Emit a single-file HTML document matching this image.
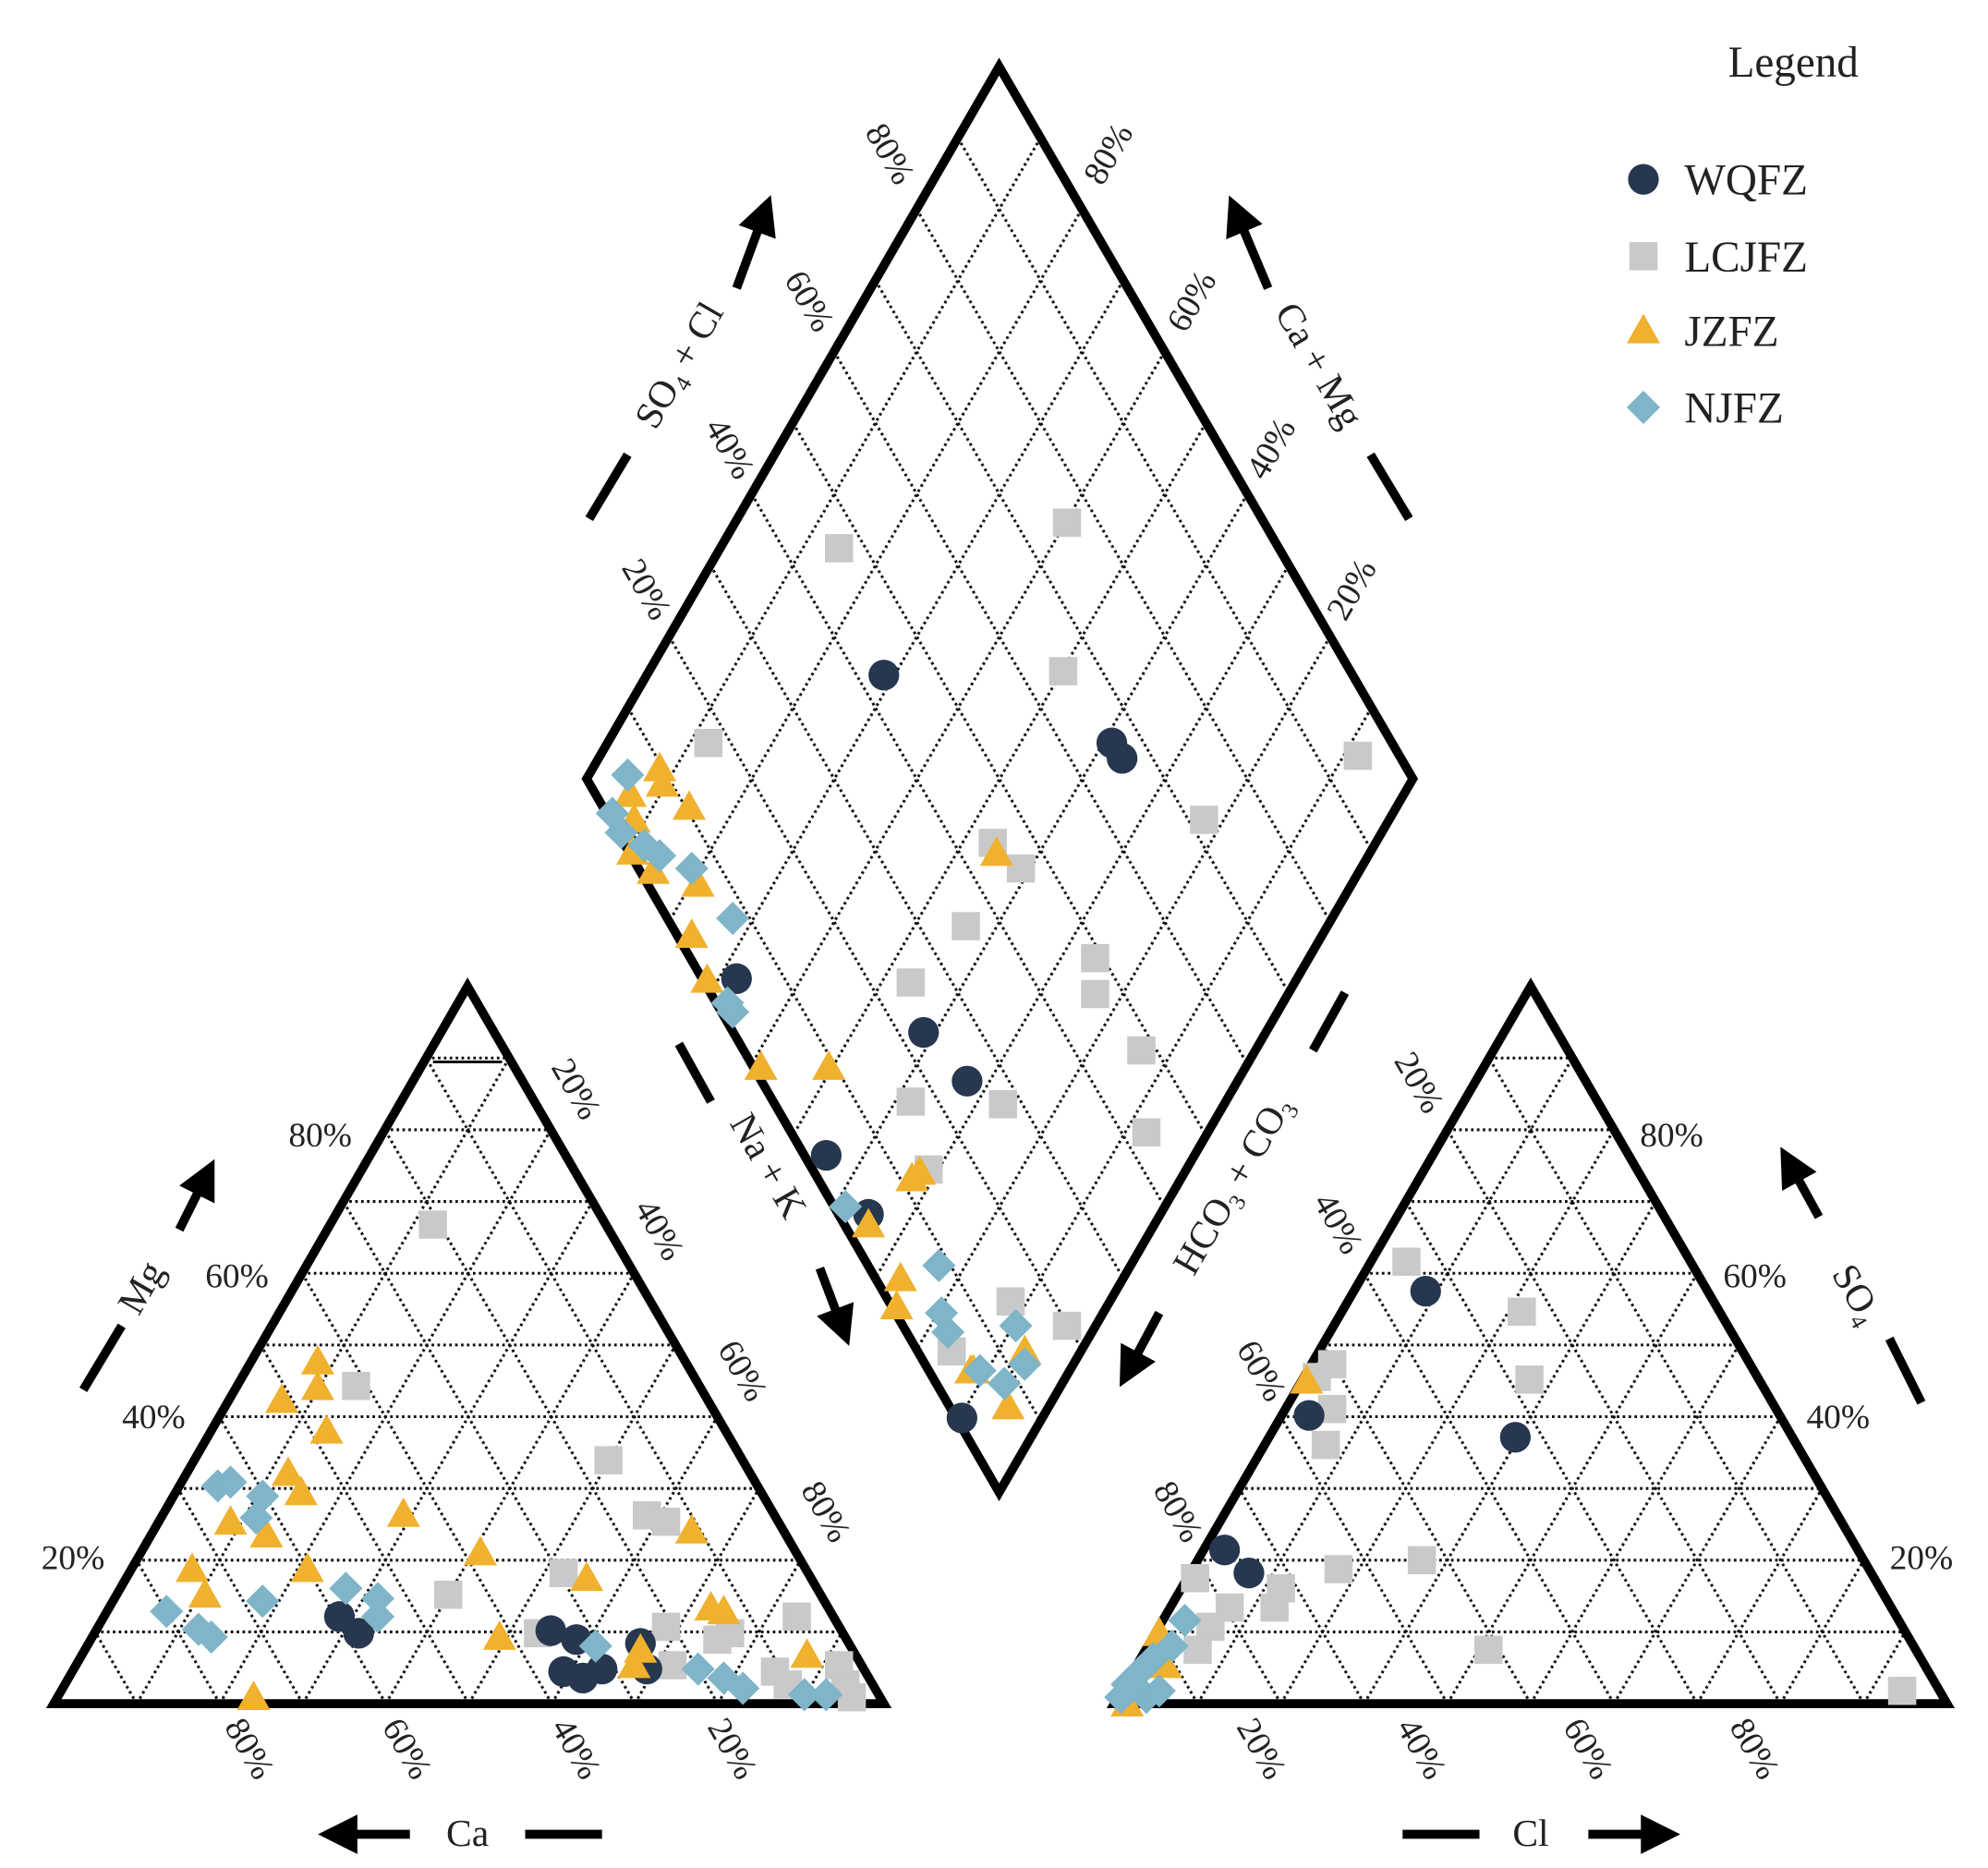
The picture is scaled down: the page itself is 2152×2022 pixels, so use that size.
<!DOCTYPE html>
<html><head><meta charset="utf-8"><style>
html,body{margin:0;padding:0;background:#fff;}
svg{display:block;}
text{font-family:"Liberation Serif",serif;fill:#222;}
</style></head><body>
<svg id="s" width="2152" height="2022" viewBox="0 0 1552 1458.3" preserveAspectRatio="none" xmlns="http://www.w3.org/2000/svg">
<defs>
<marker id="ah" markerWidth="4.4" markerHeight="4.4" refX="2" refY="2.2" orient="auto" markerUnits="strokeWidth"><path d="M0,0 L4.4,2.2 L0,4.4 z" fill="#000"/></marker>
</defs>
<g id="grid" stroke="#111" stroke-width="2.2" stroke-dasharray="2,2.6" fill="none"></g>
<g fill="none" stroke="#000" stroke-width="7" stroke-linejoin="miter">
<polygon points="42,1330 690,1330 365,770"/>
<polygon points="870,1330 1520,1330 1195,770"/>
<polygon points="780,52 458,608 780,1165 1103,608"/>
<line x1="338" y1="829" x2="392" y2="829" stroke-width="2"/>
</g>
<g stroke="#000" stroke-width="7" fill="none">
<line x1="460" y1="405" x2="490" y2="355"/>
<line x1="575" y1="225" x2="596" y2="168" marker-end="url(#ah)"/>
<line x1="990" y1="225" x2="966" y2="168" marker-end="url(#ah)"/>
<line x1="1070" y1="355" x2="1100" y2="405"/>
<line x1="530" y1="815" x2="555" y2="860"/>
<line x1="640" y1="990" x2="657" y2="1035" marker-end="url(#ah)"/>
<line x1="1050" y1="775" x2="1025" y2="820"/>
<line x1="905" y1="1025" x2="882" y2="1068" marker-end="url(#ah)"/>
<line x1="65" y1="1085" x2="95" y2="1035"/>
<line x1="140" y1="960" x2="160" y2="920" marker-end="url(#ah)"/>
<line x1="1420" y1="950" x2="1398" y2="910" marker-end="url(#ah)"/>
<line x1="1475" y1="1045" x2="1500" y2="1095"/>
<line x1="320" y1="1432" x2="265" y2="1432" marker-end="url(#ah)"/>
<line x1="410" y1="1432" x2="470" y2="1432"/>
<line x1="1095" y1="1432" x2="1155" y2="1432"/>
<line x1="1240" y1="1432" x2="1295" y2="1432" marker-end="url(#ah)"/>
</g>
<g id="pts"></g>
<g font-size="27">
<text x="250" y="895" text-anchor="middle">80%</text>
<text x="185" y="1005" text-anchor="middle">60%</text>
<text x="120" y="1115" text-anchor="middle">40%</text>
<text x="57" y="1225" text-anchor="middle">20%</text>
<text x="1305" y="895" text-anchor="middle">80%</text>
<text x="1370" y="1005" text-anchor="middle">60%</text>
<text x="1435" y="1115" text-anchor="middle">40%</text>
<text x="1500" y="1225" text-anchor="middle">20%</text>
<g id="rot"></g>
<text x="365" y="1441" text-anchor="middle" font-size="30">Ca</text>
<text x="1195" y="1441" text-anchor="middle" font-size="30">Cl</text>
<text x="1400" y="60" text-anchor="middle" font-size="34">Legend</text>
<text x="1315" y="152" font-size="34">WQFZ</text>
<text x="1315" y="212" font-size="34">LCJFZ</text>
<text x="1315" y="270" font-size="34">JZFZ</text>
<text x="1315" y="330" font-size="34">NJFZ</text>
<text transform="translate(110,1005) rotate(-60)" text-anchor="middle" font-size="30" dy="10">Mg</text>
<text transform="translate(1450,1010) rotate(60)" text-anchor="middle" font-size="30" dy="10">SO<tspan font-size="18" dy="6">4</tspan></text>
<text transform="translate(530,285) rotate(-60)" text-anchor="middle" font-size="30" dy="10">SO<tspan font-size="18" dy="6">4</tspan><tspan dy="-6"> + Cl</tspan></text>
<text transform="translate(1030,285) rotate(60)" text-anchor="middle" font-size="30" dy="10">Ca + Mg</text>
<text transform="translate(600,910) rotate(60)" text-anchor="middle" font-size="30" dy="10">Na + K</text>
<text transform="translate(962,925) rotate(-60)" text-anchor="middle" font-size="30" dy="10">HCO<tspan font-size="18" dy="6">3</tspan><tspan dy="-6"> + CO</tspan><tspan font-size="18" dy="6">3</tspan></text>
</g>
</svg>
<script>
var NS="http://www.w3.org/2000/svg";
function el(p,n,a){var e=document.createElementNS(NS,n);for(var k in a)e.setAttribute(k,a[k]);p.appendChild(e);return e;}
var g=document.getElementById("grid");
function lerp(a,b,t){return [a[0]+t*(b[0]-a[0]),a[1]+t*(b[1]-a[1])];}
function ln(p,q){el(g,"line",{x1:p[0],y1:p[1],x2:q[0],y2:q[1]});}
function tri(A,B,C){for(var i=1;i<10;i++){var t=i/10;ln(lerp(A,C,t),lerp(B,C,t));ln(lerp(A,B,t),lerp(C,B,t));ln(lerp(B,A,t),lerp(C,A,t));}}
tri([42,1330],[690,1330],[365,770]);tri([870,1330],[1520,1330],[1195,770]);
var T=[780,52],L=[458,608],Bm=[780,1165],R=[1103,608];
for(var i=1;i<10;i++){var t=i/10;ln(lerp(T,R,t),lerp(L,Bm,t));ln(lerp(T,L,t),lerp(R,Bm,t));}
var P=document.getElementById("pts");
function circ(x,y){el(P,"circle",{cx:x,cy:y,r:12,fill:"#26374f"});}
function sq(x,y){el(P,"rect",{x:x-11,y:y-11,width:22,height:22,fill:"#c9c9c9"});}
function trg(x,y){el(P,"polygon",{points:(x)+","+(y-13)+" "+(x+13)+","+(y+10)+" "+(x-13)+","+(y+10),fill:"#f0b12e"});}
function dia(x,y){el(P,"polygon",{points:x+","+(y-13)+" "+(x+13)+","+y+" "+x+","+(y+13)+" "+(x-13)+","+y,fill:"#7fb4c9"});}
function run(f,a){for(var i=0;i<a.length;i+=2)f(a[i],a[i+1]);}
run(sq,[655,428,833,408,830,524,553,580,1060,590,940,640,775,658,797,678,754,723,855,748,855,776,711,767,891,820,783,862,711,860,895,884,725,913,789,1016,833,1035,743,1055,
338,956,278,1082,475,1140,505,1183,520,1188,440,1228,350,1245,420,1275,520,1270,560,1280,570,1275,622,1262,525,1300,605,1305,615,1315,660,1315,665,1325,655,1300,
1098,985,1188,1024,1040,1065,1028,1075,1194,1077,1040,1100,1035,1128,1110,1218,1045,1225,1000,1240,995,1255,960,1255,933,1232,945,1270,935,1288,1162,1288,1485,1320,1283,200]);
run(circ,[690,527,868,580,876,592,575,764,721,806,755,844,645,902,678,948,751,1107,
265,1262,280,1275,430,1273,440,1305,455,1310,470,1303,500,1283,505,1303,450,1280,
1113,1008,1183,1122,1022,1105,956,1210,975,1228,1283,140]);
run(trg,[515,600,517,612,538,630,492,620,495,640,494,665,510,680,545,690,540,730,552,765,594,833,647,833,712,920,718,915,678,956,703,998,700,1020,758,1070,787,1098,778,666,760,1070,800,1055,
248,1063,248,1083,220,1093,255,1117,225,1150,235,1165,180,1188,208,1198,315,1182,240,1225,150,1225,160,1245,375,1212,458,1232,390,1278,540,1195,555,1255,565,1258,500,1288,495,1300,630,1292,198,1325,
1020,1078,905,1275,910,1300,880,1330,1283,258]);
run(dia,[490,605,478,635,485,650,503,660,515,668,540,678,572,717,568,783,572,790,660,942,733,988,735,1025,740,1040,793,1035,800,1065,784,1080,765,1070,
170,1160,180,1157,205,1168,200,1185,130,1258,155,1272,165,1278,205,1250,270,1240,295,1248,295,1262,465,1285,545,1303,565,1310,580,1318,628,1323,645,1323,
925,1265,915,1285,900,1295,890,1305,880,1315,875,1325,895,1325,905,1320,1283,318]);
var r=document.getElementById("rot");
function rt(s,x,y,a){var e=el(r,"text",{transform:"translate("+x+","+y+") rotate("+a+")","text-anchor":"middle",dy:"9"});e.textContent=s;}
[["20%",450,850],["40%",515,960],["60%",580,1070],["80%",645,1180]].forEach(function(d){rt(d[0],d[1],d[2],60)});
[["80%",195,1365],["60%",318,1365],["40%",450,1365],["20%",572,1365],["20%",985,1365],["40%",1110,1365],["60%",1240,1365],["80%",1370,1365]].forEach(function(d){rt(d[0],d[1],d[2],60)});
[["20%",1108,845],["40%",1045,955],["60%",985,1070],["80%",920,1180]].forEach(function(d){rt(d[0],d[1],d[2],60)});
[["80%",695,120],["60%",632,235],["40%",570,350],["20%",505,460]].forEach(function(d){rt(d[0],d[1],d[2],60)});
[["80%",865,120],["60%",930,235],["40%",992,350],["20%",1055,460]].forEach(function(d){rt(d[0],d[1],d[2],-60)});
</script>
</body></html>
